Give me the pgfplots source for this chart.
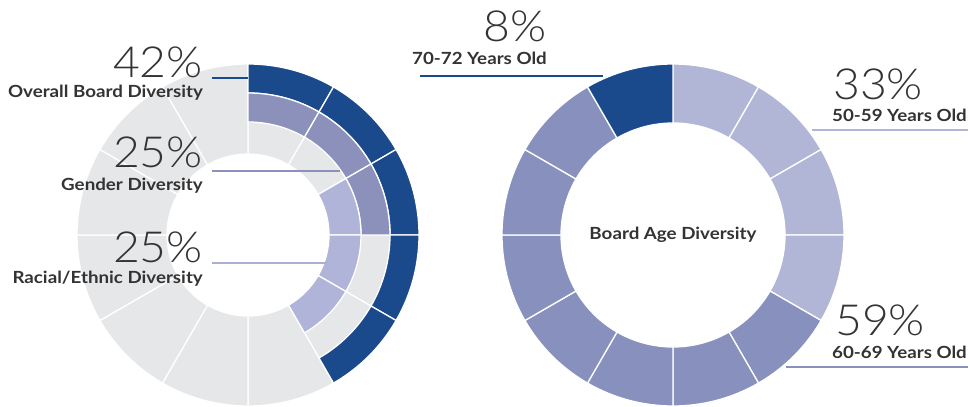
\documentclass[border=0pt]{standalone}
\usepackage{pgfplots}
\pgfplotsset{compat=1.18}
\usepackage{pgfplotstable}
\usepackage{fontspec}
\setmainfont{Lato}
\newfontfamily\labfont{Lato}[FakeStretch=1.12]
\newfontfamily\lightfont{Lato Light}[FakeStretch=1.08]

\definecolor{cDark}{HTML}{1B4A8C}
\definecolor{cMid}{HTML}{8C91BC}
\definecolor{cLight}{HTML}{B0B4D8}
\definecolor{cLav}{HTML}{B1B6D6}
\definecolor{cAge}{HTML}{8891BE}
\definecolor{cGray}{HTML}{E6E7E9}
\definecolor{cText}{HTML}{333333}

% segments in twelfths of a turn, clockwise from 12 o'clock
% col: 0 gray, 1 dark blue, 2 mid purple, 3 light purple, 4 lavender, 5 age purple
\pgfplotstableread{
cx cy a b rin rout col
248 171 0 1 81 171 0
248 171 1 2 81 171 0
248 171 2 3 81 171 0
248 171 3 4 81 171 0
248 171 4 5 81 171 0
248 171 5 6 81 171 0
248 171 6 7 81 171 0
248 171 7 8 81 171 0
248 171 8 9 81 171 0
248 171 9 10 81 171 0
248 171 10 11 81 171 0
248 171 11 12 81 171 0
248 171 0 1 142 171 1
248 171 1 2 142 171 1
248 171 2 3 142 171 1
248 171 3 4 142 171 1
248 171 4 5 142 171 1
248 171 0 1 113 142 2
248 171 1 2 113 142 2
248 171 2 3 113 142 2
248 171 2 3 81 113 3
248 171 3 4 81 113 3
248 171 4 5 81 113 3
}\leftdata

\pgfplotstableread{
cx cy a b rin rout col
673 171 0 1 112 171 4
673 171 1 2 112 171 4
673 171 2 3 112 171 4
673 171 3 4 112 171 4
673 171 4 5 112 171 5
673 171 5 6 112 171 5
673 171 6 7 112 171 5
673 171 7 8 112 171 5
673 171 8 9 112 171 5
673 171 9 10 112 171 5
673 171 10 11 112 171 5
673 171 11 12 112 171 1
}\rightdata

\pgfplotsset{
  donut/.style={
    scatter, only marks, mark=text, text mark={},
    visualization depends on={\thisrow{a}\as\segA},
    visualization depends on={\thisrow{b}\as\segB},
    visualization depends on={\thisrow{rin}\as\segRin},
    visualization depends on={\thisrow{rout}\as\segRout},
    visualization depends on={\thisrow{col}\as\segCol},
    scatter/@pre marker code/.code={%
      \pgfmathsetmacro\angA{90-30*\segA}%
      \pgfmathsetmacro\angB{90-30*\segB}%
      \pgfmathsetmacro\rA{\segRout}%
      \pgfmathsetmacro\rB{\segRin}%
      \pgfmathtruncatemacro\ci{\segCol}%
      \ifcase\ci\relax \def\cc{cGray}\or \def\cc{cDark}\or \def\cc{cMid}\or
        \def\cc{cLight}\or \def\cc{cLav}\else \def\cc{cAge}\fi
      \fill[\cc, draw=white, line width=1.3bp]
        (\angA:\rA bp) arc[start angle=\angA, end angle=\angB, radius=\rA bp]
        -- (\angB:\rB bp) arc[start angle=\angB, end angle=\angA, radius=\rB bp]
        -- cycle;
    },
    scatter/@post marker code/.code={},
  }
}

\newcommand\bigpct{\lightfont\fontsize{43}{43}\selectfont}
\newcommand\lab{\labfont\fontsize{16.8}{16.8}\selectfont\bfseries}

\begin{document}
\begin{tikzpicture}
\begin{axis}[
  set layers=standard,
  x=1bp, y=1bp,
  xmin=0, xmax=970, ymin=0, ymax=406,
  axis line style={draw=none},
  xtick=\empty, ytick=\empty,
  clip=false,
]
\addplot[donut] table[x=cx, y=cy] {\leftdata};
\addplot[donut] table[x=cx, y=cy] {\rightdata};

% leader lines
\addplot[on layer=axis foreground, cDark, line width=1.6bp] coordinates {(212,328) (248,328)};
\addplot[on layer=axis foreground, cMid, line width=1.6bp] coordinates {(212,235) (340,235)};
\addplot[on layer=axis foreground, cLight!85!cMid, line width=1.6bp] coordinates {(212,143) (327,143)};
\addplot[on layer=axis foreground, cDark, line width=1.6bp] coordinates {(420,330) (603,330)};
\addplot[on layer=axis foreground, cLav, line width=1.6bp] coordinates {(812,276) (968,276)};
\addplot[on layer=axis foreground, cAge, line width=1.6bp] coordinates {(786,39) (968,39)};

% labels
\begin{pgfonlayer}{axis foreground}
\node[anchor=base east, inner sep=0, text=cText, font=\bigpct] at (axis cs:203,328) {42\%};
\node[anchor=base east, inner sep=0, text=cText, font=\lab] at (axis cs:203,308) {Overall Board Diversity};
\node[anchor=base east, inner sep=0, text=cText, font=\bigpct] at (axis cs:203,238) {25\%};
\node[anchor=base east, inner sep=0, text=cText, font=\lab] at (axis cs:203,215) {Gender Diversity};
\node[anchor=base east, inner sep=0, text=cText, font=\bigpct] at (axis cs:203,144) {25\%};
\node[anchor=base east, inner sep=0, text=cText, font=\lab] at (axis cs:203,123) {Racial/Ethnic Diversity};

\node[anchor=base east, inner sep=0, text=cText, font=\bigpct] at (axis cs:547,364) {8\%};
\node[anchor=base east, inner sep=0, text=cText, font=\lab] at (axis cs:547,341) {70-72 Years Old};
\node[anchor=base west, inner sep=0, text=cText, font=\bigpct] at (axis cs:833,306) {33\%};
\node[anchor=base west, inner sep=0, text=cText, font=\lab] at (axis cs:832,284) {50-59 Years Old};
\node[anchor=base west, inner sep=0, text=cText, font=\bigpct] at (axis cs:835,71) {59\%};
\node[anchor=base west, inner sep=0, text=cText, font=\lab] at (axis cs:832,48) {60-69 Years Old};
\node[anchor=center, inner sep=0, text=cText, font=\lab] at (axis cs:673,171) {Board Age Diversity};
\end{pgfonlayer}
\end{axis}
\end{tikzpicture}
\end{document}
